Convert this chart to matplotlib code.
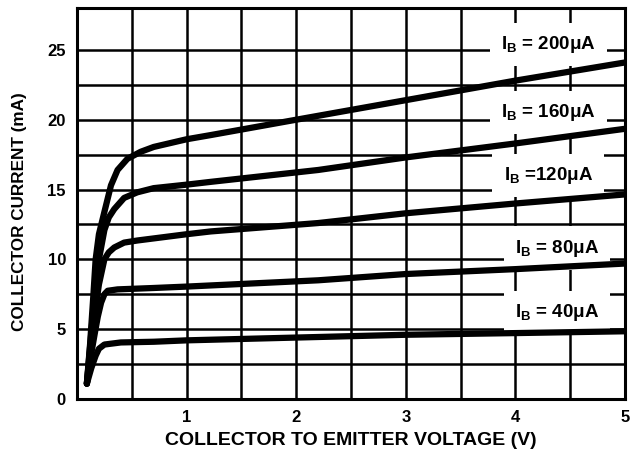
import matplotlib
matplotlib.use("Agg")
import matplotlib.pyplot as plt

# ---- data --------------------------------------------------------------
v_200 = [0.09, 0.12, 0.15, 0.17, 0.20, 0.25, 0.31, 0.37, 0.46, 0.58, 0.70, 1.0, 1.22, 2.0, 3.0, 4.0, 5.0]
i_200 = [1.1, 4.0, 7.5, 10.0, 11.8, 13.4, 15.3, 16.4, 17.2, 17.7, 18.05, 18.6, 18.9, 20.0, 21.4, 22.8, 24.1]

v_160 = [0.09, 0.12, 0.15, 0.20, 0.25, 0.29, 0.34, 0.43, 0.55, 0.70, 1.0, 1.22, 2.2, 3.0, 4.0, 5.0]
i_160 = [1.1, 3.8, 6.5, 10.0, 12.1, 13.0, 13.6, 14.4, 14.8, 15.1, 15.35, 15.55, 16.4, 17.3, 18.3, 19.35]

v_120 = [0.09, 0.12, 0.16, 0.20, 0.25, 0.29, 0.34, 0.43, 0.55, 0.70, 1.0, 1.22, 2.2, 3.0, 4.0, 5.0]
i_120 = [1.1, 3.5, 6.0, 8.2, 10.0, 10.5, 10.85, 11.2, 11.35, 11.5, 11.8, 12.0, 12.6, 13.3, 14.0, 14.65]

v_80 = [0.09, 0.12, 0.16, 0.19, 0.22, 0.25, 0.28, 0.37, 0.70, 1.0, 2.2, 3.0, 4.0, 5.0]
i_80 = [1.1, 2.8, 4.6, 5.9, 6.9, 7.5, 7.75, 7.85, 7.95, 8.05, 8.5, 8.95, 9.3, 9.7]

v_40 = [0.09, 0.13, 0.17, 0.20, 0.25, 0.40, 0.70, 1.0, 2.2, 3.0, 4.0, 5.0]
i_40 = [1.1, 2.2, 3.1, 3.6, 3.9, 4.05, 4.1, 4.2, 4.44, 4.6, 4.72, 4.85]

curves = [(v_200, i_200), (v_160, i_160), (v_120, i_120), (v_80, i_80), (v_40, i_40)]
labels = [r"I$_\mathregular{B}$ = 200$\mathregular{\mu}$A",
          r"I$_\mathregular{B}$ = 160$\mathregular{\mu}$A",
          r"I$_\mathregular{B}$ =120$\mathregular{\mu}$A",
          r"I$_\mathregular{B}$ = 80$\mathregular{\mu}$A",
          r"I$_\mathregular{B}$ = 40$\mathregular{\mu}$A"]
label_x = [4.3, 4.3, 4.3, 4.38, 4.38]
label_y = [25.4, 20.5, 16.0, 10.8, 6.2]

x_ticks = [1, 2, 3, 4, 5]
y_ticks = [0, 5, 10, 15, 20, 25]
x_grid = [0.5, 1.0, 1.5, 2.0, 2.5, 3.0, 3.5, 4.0, 4.5]
y_grid = [2.5, 5, 7.5, 10, 12.5, 15, 17.5, 20, 22.5, 25]

plt.rcParams["font.family"] = ["Liberation Sans", "DejaVu Sans"]
plt.rcParams["font.weight"] = "bold"
plt.rcParams["axes.labelweight"] = "bold"
plt.rcParams["mathtext.fontset"] = "custom"
plt.rcParams["mathtext.rm"] = "Liberation Sans:bold"
plt.rcParams["mathtext.it"] = "Liberation Sans:bold"
plt.rcParams["mathtext.bf"] = "Liberation Sans:bold"

fig = plt.figure(figsize=(6.3, 4.54), dpi=100)
ax = fig.add_axes([77 / 630, 55 / 454, 548 / 630, 391 / 454])

ax.set_xlim(0, 5)
ax.set_ylim(0, 28)
ax.set_xticks(x_ticks)
ax.set_yticks(y_ticks)
ax.set_xticks(x_grid, minor=True)
ax.set_yticks(y_grid, minor=True)
ax.grid(which="both", color="black", lw=1.8, zorder=1)
ax.set_axisbelow(True)
ax.tick_params(which="both", length=0, labelsize=12, pad=8)
for s in ax.spines.values():
    s.set_linewidth(2.2)

for v, i in curves:
    ax.plot(v, i, color="black", lw=4.5, solid_capstyle="round",
            solid_joinstyle="round", zorder=3)

# white boxes break the grid but sit under the curves
for lab, lx, ly in zip(labels, label_x, label_y):
    ax.text(lx, ly, lab, ha="center", va="center", fontsize=13.5, zorder=2,
            bbox=dict(boxstyle="square,pad=0.6", fc="white", ec="none"))

ax.set_xlabel("COLLECTOR TO EMITTER VOLTAGE (V)", fontsize=14, labelpad=5)
ax.set_ylabel("COLLECTOR CURRENT (mA)", fontsize=12.3, labelpad=12)
ax.yaxis.set_label_coords(-0.092, 0.48)

fig.savefig("out.png", dpi=100)
